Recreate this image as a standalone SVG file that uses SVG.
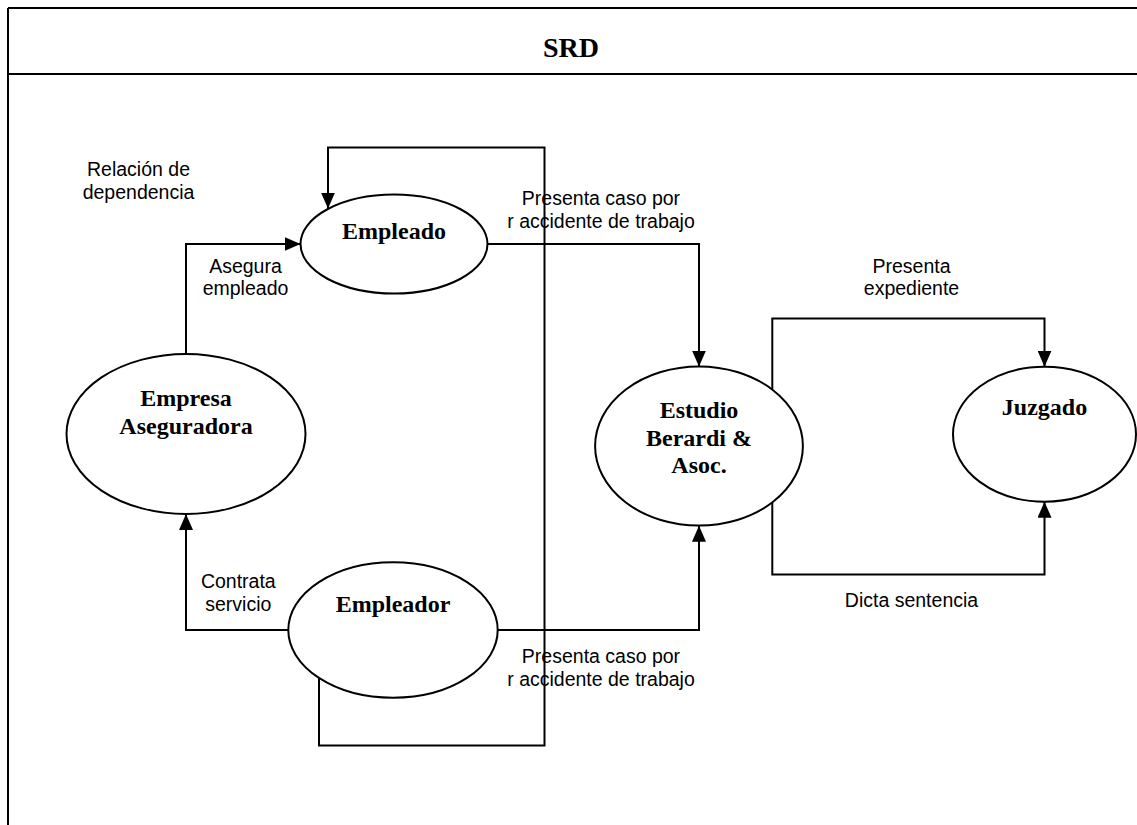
<svg xmlns="http://www.w3.org/2000/svg" width="1137" height="825" viewBox="0 0 1137 825">
  <style>
    .frame { stroke: #000; stroke-width: 2; fill: none; }
    .node { fill: #fff; stroke: #000; stroke-width: 2; }
    .name { font-family: "Liberation Serif", "Times New Roman", serif; font-weight: bold; font-size: 24px; fill: #000; text-anchor: middle; }
    .title { font-family: "Liberation Serif", "Times New Roman", serif; font-weight: bold; font-size: 28px; fill: #000; text-anchor: middle; }
    .label { font-family: "Liberation Sans", Arial, sans-serif; font-size: 19.5px; fill: #000; text-anchor: middle; }
    .flow { fill: none; stroke: #000; stroke-width: 2; marker-end: url(#arrow); }
  </style>
  <defs>
    <marker id="arrow" markerUnits="userSpaceOnUse" markerWidth="16" markerHeight="14" refX="16" refY="7" orient="auto">
      <path d="M0,0 L16,7 L0,14 z" fill="#000"/>
    </marker>
  </defs>

  <rect width="1137" height="825" fill="#fff"/>

  <!-- page frame and header band -->
  <g id="frame">
    <line class="frame" x1="8" y1="8" x2="1137" y2="8"/>
    <line class="frame" x1="8" y1="74" x2="1137" y2="74"/>
    <line class="frame" x1="8" y1="8" x2="8" y2="825"/>
    <text class="title" x="571" y="57">SRD</text>
  </g>

  <!-- flows between entities -->
  <g id="connectors">
    <path class="flow" d="M186,354 V244 H300.5"/>
    <path class="flow" d="M288.3,630 H186 V514"/>
    <path class="flow" d="M319,678 V745.5 H544.5 V147.5 H328 V208.5"/>
    <path class="flow" d="M487.5,244 H699 V366.5"/>
    <path class="flow" d="M497.7,630 H699 V525.7"/>
    <path class="flow" d="M772.3,389 V318.5 H1044.5 V366.7"/>
    <path class="flow" d="M772.3,503 V574.5 H1044.5 V501.7"/>
  </g>

  <!-- flow labels -->
  <g id="labels">
    <text class="label" x="138.5" y="176">Relación de</text>
    <text class="label" x="138.5" y="198.5">dependencia</text>
    <text class="label" x="245.5" y="272.7">Asegura</text>
    <text class="label" x="245.5" y="295">empleado</text>
    <text class="label" x="601" y="205">Presenta caso por</text>
    <text class="label" x="601" y="227.5">r accidente de trabajo</text>
    <text class="label" x="238.3" y="588.3">Contrata</text>
    <text class="label" x="238.3" y="610.7">servicio</text>
    <text class="label" x="601" y="663.3">Presenta caso por</text>
    <text class="label" x="601" y="686">r accidente de trabajo</text>
    <text class="label" x="911.5" y="273">Presenta</text>
    <text class="label" x="911.5" y="295">expediente</text>
    <text class="label" x="911.5" y="606.7">Dicta sentencia</text>
  </g>

  <g id="empleado">
    <ellipse class="node" cx="394" cy="244" rx="93.5" ry="49.5"/>
    <text class="name" x="394" y="239.3">Empleado</text>
  </g>

  <g id="empresa-aseguradora">
    <ellipse class="node" cx="186" cy="434" rx="119.5" ry="80"/>
    <text class="name" x="186" y="406">Empresa</text>
    <text class="name" x="186" y="434">Aseguradora</text>
  </g>

  <g id="empleador">
    <ellipse class="node" cx="393" cy="630" rx="104.7" ry="67.7"/>
    <text class="name" x="393" y="611.7">Empleador</text>
  </g>

  <g id="estudio">
    <ellipse class="node" cx="699" cy="446" rx="103.9" ry="79.6"/>
    <text class="name" x="699" y="418.3">Estudio</text>
    <text class="name" x="699" y="445.5">Berardi &amp;</text>
    <text class="name" x="699" y="473">Asoc.</text>
  </g>

  <g id="juzgado">
    <ellipse class="node" cx="1044.5" cy="434.2" rx="91.5" ry="67.5"/>
    <text class="name" x="1044.5" y="415">Juzgado</text>
  </g>
</svg>
